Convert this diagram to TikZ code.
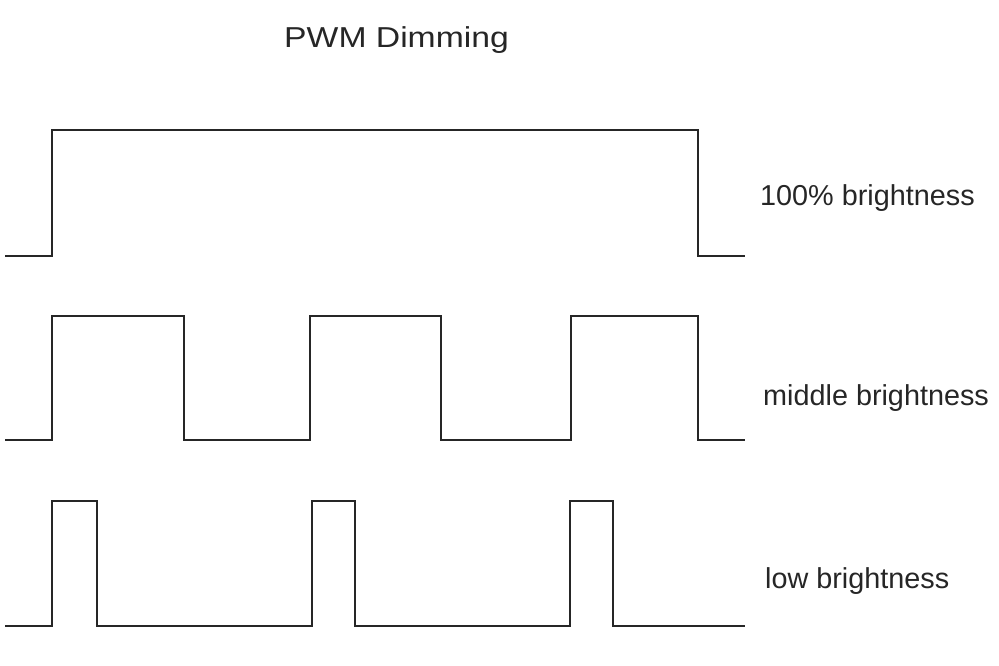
\documentclass[tikz,border=0pt]{standalone}
\usepackage{fontspec}
\setmainfont{Liberation Sans}
\begin{document}
\begin{tikzpicture}[x=1pt,y=-1pt,
  wave/.style={line width=2.6pt,draw=black!85,line join=miter},
  lbl/.style={anchor=base west,inner sep=0pt,font=\fontsize{28.8}{32}\selectfont,text=black!85}]
\useasboundingbox[fill=white] (0,0) rectangle (999,666);
\node[lbl,xscale=1.17] (title) at (284,48) {PWM Dimming};
% 100%
\draw[wave] (5,256) -- (52,256) -- (52,130) -- (698,130) -- (698,256) -- (745,256);
% middle
\draw[wave] (5,440) -- (52,440) -- (52,316) -- (184,316) -- (184,440) -- (310,440) -- (310,316) -- (441,316) -- (441,440) -- (571,440) -- (571,316) -- (698,316) -- (698,440) -- (745,440);
% low
\draw[wave] (5,626) -- (52,626) -- (52,501) -- (97,501) -- (97,626) -- (312,626) -- (312,501) -- (355,501) -- (355,626) -- (570,626) -- (570,501) -- (613,501) -- (613,626) -- (745,626);
\node[lbl] (l1) at (760,205) {100\% brightness};
\node[lbl] (l2) at (763,405) {middle brightness};
\node[lbl] (l3) at (765,588) {low brightness};
\end{tikzpicture}
\end{document}
